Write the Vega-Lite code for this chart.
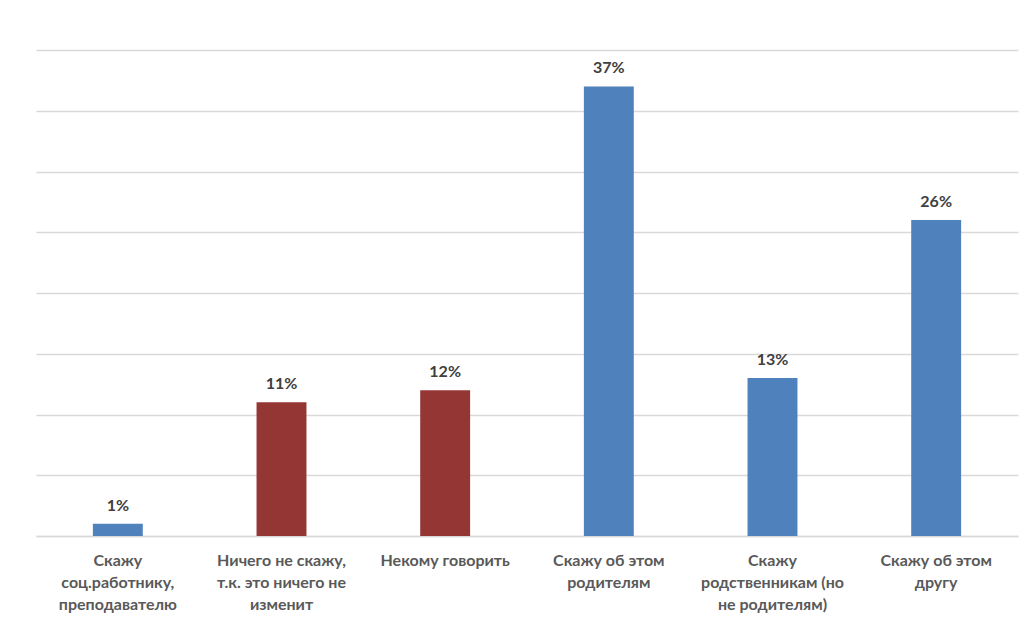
{
  "$schema": "https://vega.github.io/schema/vega-lite/v6.json",
  "width": 982,
  "height": 486,
  "autosize": {"type": "none"},
  "padding": {"left": 36, "top": 50, "right": 17, "bottom": 92},
  "background": "white",
  "config": {"view": {"stroke": null}, "font": "Lato"},
  "data": {
    "values": [
      {"answer": "Скажу\nсоц.работнику,\nпреподавателю", "share": 0.01, "kind": "tell"},
      {"answer": "Ничего не скажу,\nт.к. это ничего не\nизменит", "share": 0.11, "kind": "silent"},
      {"answer": "Некому говорить", "share": 0.12, "kind": "silent"},
      {"answer": "Скажу об этом\nродителям", "share": 0.37, "kind": "tell"},
      {"answer": "Скажу\nродственникам (но\nне родителям)", "share": 0.13, "kind": "tell"},
      {"answer": "Скажу об этом\nдругу", "share": 0.26, "kind": "tell"}
    ]
  },
  "encoding": {
    "x": {
      "field": "answer", "type": "nominal", "sort": null,
      "scale": {"paddingInner": 0.695, "paddingOuter": 0.3475},
      "axis": {
        "title": null, "labelAngle": 0, "ticks": false, "domain": true,
        "domainColor": "#D9D9D9", "domainWidth": 1.5,
        "labelExpr": "split(datum.label, '\\n')",
        "labelFont": "Lato", "labelFontSize": 16, "labelFontWeight": "bold",
        "labelColor": "#595959", "labelLineHeight": 22, "labelPadding": 16,
        "labelBaseline": "top", "labelLimit": 200
      }
    },
    "y": {
      "field": "share", "type": "quantitative",
      "scale": {"domain": [0, 0.4], "nice": false},
      "axis": {
        "title": null, "labels": false, "ticks": false, "domain": false,
        "values": [0, 0.05, 0.1, 0.15, 0.2, 0.25, 0.3, 0.35, 0.4],
        "grid": true, "gridColor": "#D9D9D9", "gridWidth": 1.5
      }
    }
  },
  "layer": [
    {
      "mark": {"type": "bar"},
      "encoding": {
        "color": {
          "field": "kind", "type": "nominal",
          "scale": {"domain": ["tell", "silent"], "range": ["#4F81BD", "#943634"]},
          "legend": null
        }
      }
    },
    {
      "mark": {"type": "text", "baseline": "bottom", "dy": -10, "fontSize": 16, "fontWeight": "bold", "color": "#404040", "font": "Lato"},
      "encoding": {
        "text": {"field": "share", "type": "quantitative", "format": ".0%"}
      }
    }
  ]
}
